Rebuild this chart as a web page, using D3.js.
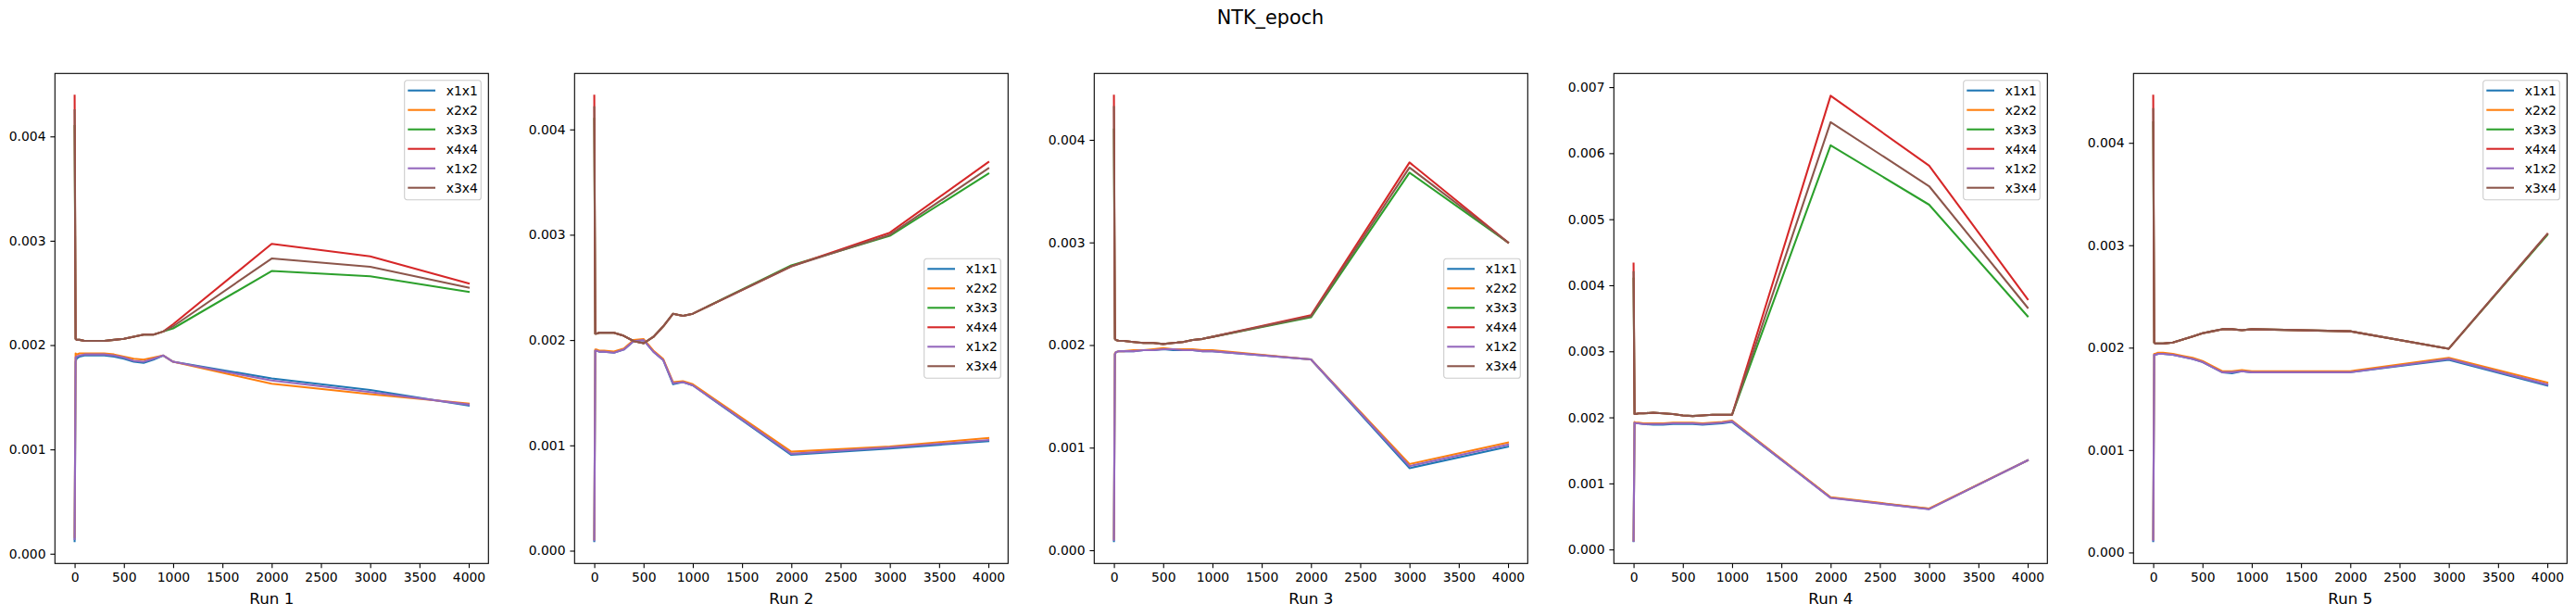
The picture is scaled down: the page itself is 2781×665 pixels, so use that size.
<!DOCTYPE html>
<html>
<head>
<meta charset="utf-8">
<script src="https://cdn.jsdelivr.net/npm/d3@7"></script>
<style>
  body { margin: 0; background: #fff; }
  svg { display: block; }
  text { font-family: "DejaVu Sans", sans-serif; fill: #000; }
</style>
</head>
<body>
<svg id="chart"></svg>
<script>
// epochs at which the NTK was sampled
var epochs = [0, 10, 20, 50, 100, 200, 300, 400, 500, 600, 700, 800, 900, 1000, 2000, 3000, 4000];

var seriesNames = ["x1x1", "x2x2", "x3x3", "x4x4", "x1x2", "x3x4"];
var seriesColors = ["#1f77b4", "#ff7f0e", "#2ca02c", "#d62728", "#9467bd", "#8c564b"];
var runLabels = ["Run 1", "Run 2", "Run 3", "Run 4", "Run 5"];
var legendPlace = ["upper right", "center right", "center right", "upper right", "upper right"];
var xTicks = [0, 500, 1000, 1500, 2000, 2500, 3000, 3500, 4000];
var yTicks = [
  [0, 0.001, 0.002, 0.003, 0.004],
  [0, 0.001, 0.002, 0.003, 0.004],
  [0, 0.001, 0.002, 0.003, 0.004],
  [0, 0.001, 0.002, 0.003, 0.004, 0.005, 0.006, 0.007],
  [0, 0.001, 0.002, 0.003, 0.004]
];

// each run: x1x1, x2x2, x3x3, x4x4, x1x2, x3x4
var run1 = [
  [0.00012, 0.00184, 0.00187, 0.00189, 0.00190, 0.00190, 0.00190, 0.00189, 0.00187, 0.00184, 0.00183, 0.00186, 0.00190, 0.00184, 0.00168, 0.00157, 0.00142],
  [0.00016, 0.00192, 0.00191, 0.00192, 0.00192, 0.00192, 0.00192, 0.00191, 0.00189, 0.00187, 0.00186, 0.00188, 0.00190, 0.00184, 0.00163, 0.00153, 0.00144],
  [0.00410, 0.00206, 0.00205, 0.00205, 0.00204, 0.00204, 0.00204, 0.00205, 0.00206, 0.00208, 0.00210, 0.00210, 0.00213, 0.00216, 0.00271, 0.00266, 0.00251],
  [0.00439, 0.00206, 0.00205, 0.00205, 0.00204, 0.00204, 0.00204, 0.00205, 0.00206, 0.00208, 0.00210, 0.00210, 0.00213, 0.00220, 0.00297, 0.00285, 0.00259],
  [0.00014, 0.00188, 0.00189, 0.00190, 0.00191, 0.00191, 0.00191, 0.00190, 0.00188, 0.00185, 0.00184, 0.00187, 0.00190, 0.00184, 0.00166, 0.00155, 0.00143],
  [0.00425, 0.00206, 0.00205, 0.00205, 0.00204, 0.00204, 0.00204, 0.00205, 0.00206, 0.00208, 0.00210, 0.00210, 0.00213, 0.00218, 0.00283, 0.00275, 0.00255]
];
var run2 = [
  [0.00009, 0.00190, 0.00190, 0.00189, 0.00189, 0.00188, 0.00191, 0.00199, 0.00200, 0.00189, 0.00181, 0.00158, 0.00160, 0.00157, 0.00091, 0.00097, 0.00104],
  [0.00011, 0.00191, 0.00191, 0.00190, 0.00190, 0.00189, 0.00192, 0.00200, 0.00201, 0.00190, 0.00182, 0.00160, 0.00161, 0.00158, 0.00094, 0.00099, 0.00107],
  [0.00410, 0.00206, 0.00206, 0.00207, 0.00207, 0.00207, 0.00204, 0.00199, 0.00197, 0.00203, 0.00213, 0.00225, 0.00223, 0.00225, 0.00271, 0.00299, 0.00358],
  [0.00432, 0.00206, 0.00206, 0.00207, 0.00207, 0.00207, 0.00204, 0.00199, 0.00197, 0.00203, 0.00213, 0.00225, 0.00223, 0.00225, 0.00270, 0.00302, 0.00369],
  [0.00010, 0.00190, 0.00190, 0.00189, 0.00189, 0.00188, 0.00191, 0.00199, 0.00200, 0.00189, 0.00181, 0.00159, 0.00160, 0.00157, 0.00092, 0.00098, 0.00105],
  [0.00421, 0.00206, 0.00206, 0.00207, 0.00207, 0.00207, 0.00204, 0.00199, 0.00197, 0.00203, 0.00213, 0.00225, 0.00223, 0.00225, 0.00270, 0.00300, 0.00363]
];
var run3 = [
  [0.000088, 0.00191, 0.00193, 0.00194, 0.00194, 0.00194, 0.00195, 0.00195, 0.00196, 0.00195, 0.00195, 0.00195, 0.00194, 0.00194, 0.00186, 0.00080, 0.00101],
  [0.00011, 0.00192, 0.00193, 0.00194, 0.00194, 0.00195, 0.00195, 0.00196, 0.00197, 0.00196, 0.00196, 0.00196, 0.00195, 0.00195, 0.00186, 0.00084, 0.00105],
  [0.00410, 0.00206, 0.00205, 0.00204, 0.00204, 0.00203, 0.00202, 0.00202, 0.00201, 0.00202, 0.00203, 0.00205, 0.00206, 0.00208, 0.00227, 0.00368, 0.00300],
  [0.00443, 0.00206, 0.00205, 0.00204, 0.00204, 0.00203, 0.00202, 0.00202, 0.00201, 0.00202, 0.00203, 0.00205, 0.00206, 0.00208, 0.00229, 0.00378, 0.00300],
  [0.00010, 0.00191, 0.00193, 0.00194, 0.00194, 0.00194, 0.00195, 0.00195, 0.00196, 0.00196, 0.00195, 0.00195, 0.00194, 0.00194, 0.00186, 0.00082, 0.00103],
  [0.00432, 0.00206, 0.00205, 0.00204, 0.00204, 0.00203, 0.00202, 0.00202, 0.00201, 0.00202, 0.00203, 0.00205, 0.00206, 0.00208, 0.00228, 0.00373, 0.00300]
];
var run4 = [
  [0.000125, 0.00192, 0.00191, 0.00191, 0.00190, 0.00189, 0.00189, 0.00190, 0.00190, 0.00190, 0.00189, 0.00190, 0.00191, 0.00193, 0.000785, 0.000614, 0.00135],
  [0.00014, 0.00193, 0.00192, 0.00192, 0.00191, 0.00191, 0.00191, 0.00192, 0.00192, 0.00192, 0.00191, 0.00192, 0.00193, 0.00195, 0.00079, 0.00062, 0.00135],
  [0.00410, 0.00205, 0.00205, 0.00206, 0.00206, 0.00207, 0.00206, 0.00205, 0.00203, 0.00202, 0.00203, 0.00204, 0.00204, 0.00204, 0.00612, 0.00522, 0.00353],
  [0.00433, 0.00205, 0.00205, 0.00206, 0.00206, 0.00207, 0.00206, 0.00205, 0.00203, 0.00202, 0.00203, 0.00204, 0.00204, 0.00204, 0.00687, 0.00581, 0.00379],
  [0.00013, 0.00192, 0.00191, 0.00191, 0.00190, 0.00190, 0.00190, 0.00191, 0.00191, 0.00191, 0.00190, 0.00191, 0.00192, 0.00194, 0.00078, 0.00061, 0.00135],
  [0.00420, 0.00205, 0.00205, 0.00206, 0.00206, 0.00207, 0.00206, 0.00205, 0.00203, 0.00202, 0.00203, 0.00204, 0.00204, 0.00204, 0.00647, 0.00550, 0.00366]
];
var run5 = [
  [0.00011, 0.00193, 0.00193, 0.00194, 0.00194, 0.00193, 0.00191, 0.00189, 0.00186, 0.00181, 0.00176, 0.00175, 0.00177, 0.00176, 0.00176, 0.00188, 0.00163],
  [0.00013, 0.00194, 0.00194, 0.00195, 0.00195, 0.00194, 0.00192, 0.00190, 0.00187, 0.00182, 0.00177, 0.00177, 0.00178, 0.00177, 0.00177, 0.00190, 0.00166],
  [0.00420, 0.00205, 0.00204, 0.00204, 0.00204, 0.00205, 0.00208, 0.00211, 0.00214, 0.00216, 0.00218, 0.00218, 0.00217, 0.00218, 0.00216, 0.00199, 0.00310],
  [0.00446, 0.00205, 0.00204, 0.00204, 0.00204, 0.00205, 0.00208, 0.00211, 0.00214, 0.00216, 0.00218, 0.00218, 0.00217, 0.00218, 0.00216, 0.00199, 0.00311],
  [0.00012, 0.00193, 0.00193, 0.00194, 0.00194, 0.00193, 0.00191, 0.00189, 0.00186, 0.00181, 0.00176, 0.00176, 0.00177, 0.00176, 0.00176, 0.00189, 0.00164],
  [0.00433, 0.00205, 0.00204, 0.00204, 0.00204, 0.00205, 0.00208, 0.00211, 0.00214, 0.00216, 0.00218, 0.00218, 0.00217, 0.00218, 0.00216, 0.00199, 0.00311]
];
var runs = [run1, run2, run3, run4, run5];

var w = 2781;
var h = 665;
var axLeft = 59.3;
var axPitch = 561;
var axW = 468;
var axTop = 79.3;
var axH = 529;
var tickLen = 4.9;
var fontTick = 13.9;

var svg = d3.select('#chart').attr('width', w).attr('height', h);

svg.append('text')
  .attr('x', 1371.5)
  .attr('y', 26)
  .attr('text-anchor', 'middle')
  .attr('font-size', '20.8px')
  .text('NTK_epoch');

runs.forEach(function(run, r) {
  var g = svg.append('g')
    .attr('transform', 'translate(' + (axLeft + r * axPitch) + ',' + axTop + ')');

  // matplotlib style 5% margins
  var xExt = d3.extent(epochs);
  var xPad = (xExt[1] - xExt[0]) * 0.05;
  var x = d3.scaleLinear().domain([xExt[0] - xPad, xExt[1] + xPad]).range([0, axW]);

  var allVals = [].concat.apply([], run);
  var yExt = d3.extent(allVals);
  var yPad = (yExt[1] - yExt[0]) * 0.05;
  var y = d3.scaleLinear().domain([yExt[0] - yPad, yExt[1] + yPad]).range([axH, 0]);

  var xAxis = g.append('g')
    .attr('transform', 'translate(0,' + axH + ')')
    .call(d3.axisBottom(x).tickValues(xTicks).tickFormat(d3.format('d')).tickSize(tickLen).tickPadding(4.9));
  var yAxis = g.append('g')
    .call(d3.axisLeft(y).tickValues(yTicks[r]).tickFormat(d3.format('.3f')).tickSize(tickLen).tickPadding(4.9));

  [xAxis, yAxis].forEach(function(a) {
    a.select('.domain').remove();
    a.selectAll('.tick line').attr('stroke', '#000').attr('stroke-width', 1.1);
    a.selectAll('.tick text')
      .attr('font-family', '"DejaVu Sans", sans-serif')
      .attr('font-size', fontTick + 'px')
      .attr('fill', '#000');
  });

  var line = d3.line()
    .x(function(d, i) { return x(epochs[i]); })
    .y(function(d) { return y(d); });

  g.selectAll('path.series')
    .data(run)
    .join('path')
    .attr('class', 'series')
    .attr('d', line)
    .attr('fill', 'none')
    .attr('stroke', function(d, i) { return seriesColors[i]; })
    .attr('stroke-width', 2.08)
    .attr('stroke-linejoin', 'round')
    .attr('stroke-linecap', 'square');

  g.append('rect')
    .attr('width', axW)
    .attr('height', axH)
    .attr('fill', 'none')
    .attr('stroke', '#000')
    .attr('stroke-width', 1.1);

  g.append('text')
    .attr('x', axW / 2)
    .attr('y', 651.7 - axTop)
    .attr('text-anchor', 'middle')
    .attr('font-size', '16.7px')
    .text(runLabels[r]);

  // legend
  var legW = 82.6, legH = 129, rowH = 21;
  var legX = axW - 8 - legW;
  var legY = legendPlace[r] === 'upper right' ? 7.4 : (axH - legH) / 2;
  var leg = g.append('g').attr('transform', 'translate(' + legX + ',' + legY + ')');
  leg.append('rect')
    .attr('width', legW)
    .attr('height', legH)
    .attr('rx', 2.8)
    .attr('fill', '#fff')
    .attr('fill-opacity', 0.8)
    .attr('stroke', '#cccccc')
    .attr('stroke-width', 1.1);
  var rows = leg.selectAll('g.row')
    .data(seriesNames)
    .join('g')
    .attr('class', 'row')
    .attr('transform', function(d, i) { return 'translate(0,' + (11 + i * rowH) + ')'; });
  rows.append('line')
    .attr('x1', 3.6).attr('x2', 33.3)
    .attr('stroke', function(d, i) { return seriesColors[i]; })
    .attr('stroke-width', 2.08);
  rows.append('text')
    .attr('x', 45)
    .attr('dy', '0.36em')
    .attr('font-size', fontTick + 'px')
    .text(function(d) { return d; });
});
</script>
</body>
</html>
